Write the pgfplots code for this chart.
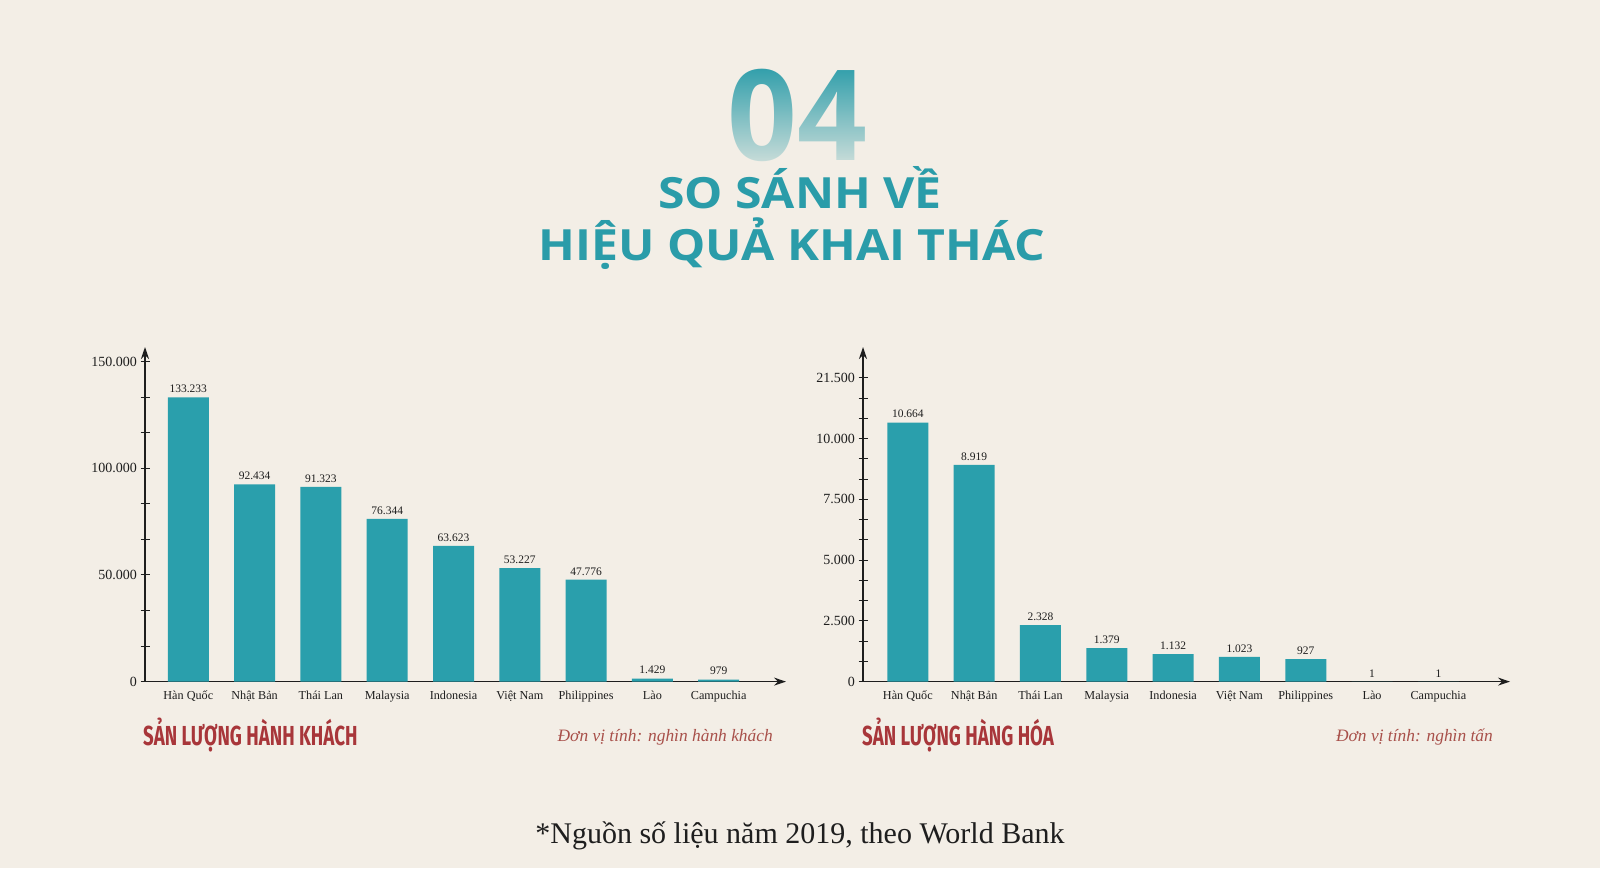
\documentclass[border=0pt]{standalone}
\usepackage{fontspec}
\setmainfont{Liberation Serif}
\newfontfamily\titlefont{Open Sans}
\newfontfamily\subfont{Fira Sans}
\usepackage{pgfplots}
\pgfplotsset{compat=1.18}
\usetikzlibrary{arrows.meta,fadings}

\definecolor{bg}{HTML}{F3EEE6}
\definecolor{teal}{HTML}{2A9FAC}
\definecolor{titleteal}{HTML}{2A9CA9}
\definecolor{redsub}{HTML}{A8363A}
\definecolor{unitred}{HTML}{A8504A}
\definecolor{ink}{HTML}{1E1E1E}

\tikzfading[name=fadedown, top color=transparent!100, bottom color=transparent!18]

\pgfplotsset{
  barchart/.style={
    scale only axis,
    anchor=south west,
    axis x line=bottom,
    axis y line=left,
    axis line style={ink, line width=1.4pt, -{Stealth[length=12pt,width=8pt]}},
    ymin=0,
    ybar,
    bar width=41pt,
    scaled y ticks=false,
    xtick={0,...,8},
    xticklabels={Hàn Quốc,Nhật Bản,Thái Lan,Malaysia,Indonesia,Việt Nam,Philippines,Lào,Campuchia},
    x tick label style={font=\fontsize{12.2}{13}\selectfont, text=ink, yshift=-1pt},
    major x tick style={draw=none},
    y tick label style={font=\fontsize{14}{15}\selectfont, text=ink},
    tick align=center,
    major tick length=9pt,
    minor tick length=9pt,
    ytick style={ink, line width=1pt},
    /pgf/number format/assume math mode=true,
    /pgf/number format/.cd, fixed, precision=0, 1000 sep={.},
    /pgfplots/.cd,
    nodes near coords,
    every node near coord/.append style={font=\fontsize{11.5}{12}\selectfont, text=ink, yshift=1pt},
  }
}

\begin{document}
\begin{tikzpicture}[x=1pt,y=1pt]
\fill[bg] (0,0) rectangle (1600,868);
\useasboundingbox (0,0) rectangle (1600,868);
\coordinate (LA) at (145,186.4);
\coordinate (RA) at (863,186.4);

% big number with fade
\node[anchor=base, text=titleteal, inner sep=0pt] at (797,707)
  {\scalebox{0.97}[1]{\titlefont\bfseries\fontsize{126}{126}\selectfont 04}};
\fill[bg, path fading=fadedown] (700,702) rectangle (900,805);

\node[anchor=base, text=titleteal, inner sep=0pt] at (800,659)
  {\scalebox{1.12}[1]{\titlefont\bfseries\fontsize{43}{43}\selectfont SO SÁNH VỀ}};
\node[anchor=base, text=titleteal, inner sep=0pt] at (792,607)
  {\scalebox{1.12}[1]{\titlefont\bfseries\fontsize{43}{43}\selectfont HIỆU QUẢ KHAI THÁC}};

% left chart: passengers
\begin{axis}[barchart,
  at={(LA)},
  width=641pt, height=334.6pt,
  xmin=-0.653, xmax=9.015,
  ymax=156900,
  ytick={0,50000,100000,150000},
  yticklabels={0,50.000,100.000,150.000},
  minor ytick={16667,33333,66667,83333,116667,133333},
]
\addplot[fill=teal, draw=none] coordinates {
  (0,133233) (1,92434) (2,91323) (3,76344) (4,63623)
  (5,53227) (6,47776) (7,1429) (8,979)
};
\end{axis}

% right chart: freight
\begin{axis}[barchart,
  at={(RA)},
  width=647pt, height=334.6pt,
  xmin=-0.676, xmax=9.08,
  ymax=13775,
  ytick={0,2500,5000,7500,10000,12500},
  yticklabels={0,2.500,5.000,7.500,10.000,21.500},
  minor ytick={833,1667,3333,4167,5833,6667,8333,9167,10833,11667},
]
\addplot[fill=teal, draw=none] coordinates {
  (0,10664) (1,8919) (2,2328) (3,1379) (4,1132)
  (5,1023) (6,927) (7,1) (8,1)
};
\end{axis}

% subtitles
\node[anchor=base west, text=redsub, inner sep=0pt] at (143,123)
  {\scalebox{0.68}[1]{\subfont\bfseries\fontsize{27.5}{28}\selectfont SẢN LƯỢNG HÀNH KHÁCH}};
\node[anchor=base east, text=unitred, inner sep=0pt] at (773,127)
  {\itshape\fontsize{17.4}{18}\selectfont Đơn vị tính: nghìn hành khách};
\node[anchor=base west, text=redsub, inner sep=0pt] at (862,123)
  {\scalebox{0.68}[1]{\subfont\bfseries\fontsize{27.5}{28}\selectfont SẢN LƯỢNG HÀNG HÓA}};
\node[anchor=base east, text=unitred, inner sep=0pt] at (1493,127)
  {\itshape\fontsize{17.4}{18}\selectfont Đơn vị tính: nghìn tấn};

% source
\node[anchor=base, text=ink, inner sep=0pt] at (800,25)
  {\fontsize{30}{31}\selectfont *Nguồn số liệu năm 2019, theo World Bank};
\end{tikzpicture}
\end{document}
